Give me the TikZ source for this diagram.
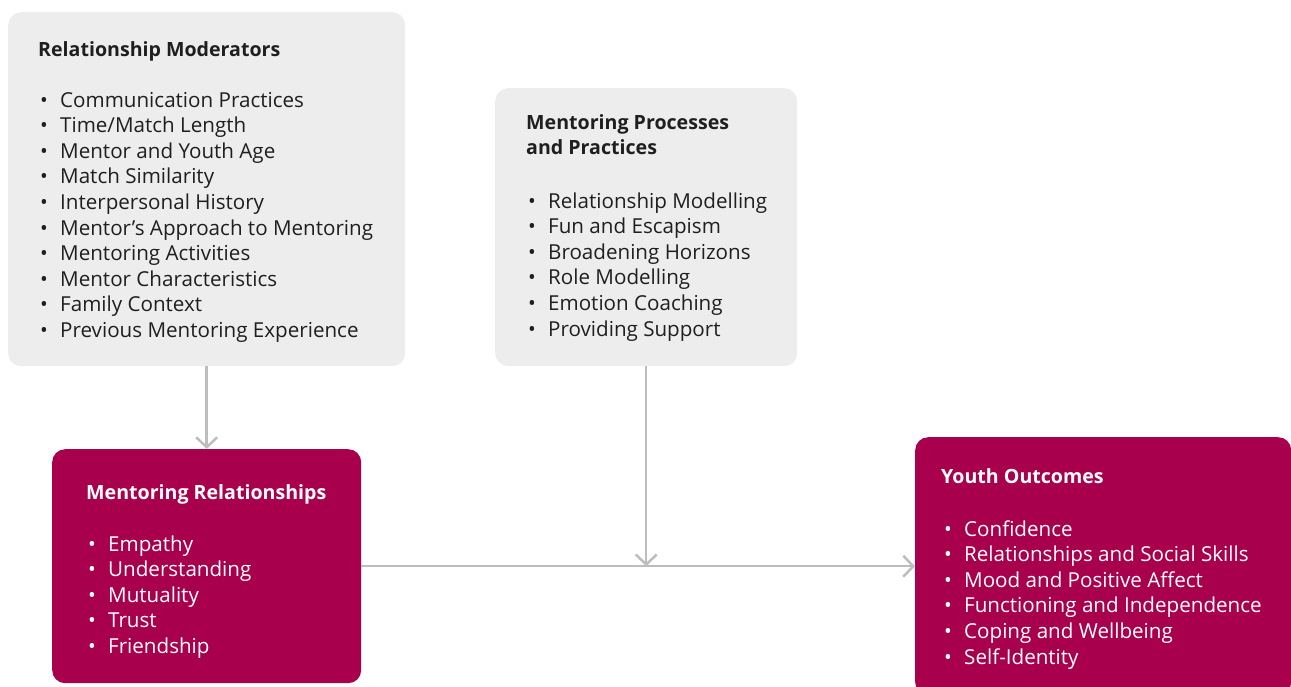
\documentclass[tikz,border=0pt]{standalone}
\usepackage{fontspec}
\setmainfont{Open Sans}
\usetikzlibrary{arrows.meta}

\definecolor{grisCaja}{HTML}{EDEDED}
\definecolor{granate}{HTML}{A8004C}
\definecolor{grisFlecha}{HTML}{BDBDBD}
\definecolor{texto}{HTML}{1F1F1F}

\begin{document}
\begin{tikzpicture}[x=1pt, y=-1pt,
    cajagris/.style={fill=grisCaja, rounded corners=13pt, anchor=north west, inner sep=0pt},
    cajaroja/.style={fill=granate, rounded corners=13pt, anchor=north west, inner sep=0pt},
    titulo/.style={anchor=base west, inner sep=0pt, font=\fontsize{19.6}{25}\selectfont\bfseries},
    item/.style={anchor=base west, inner sep=0pt, font=\fontsize{20.6}{25}\selectfont},
    flecha/.style={draw=grisFlecha, line width=2.5pt, -{Straight Barb[length=10pt,width=21pt]}}]

    \useasboundingbox (0,0) rectangle (1291,686);

    % Cajas
    \node[cajagris, minimum width=397pt, minimum height=354pt] (rm) at (8,12) {};
    \node[cajagris, minimum width=302pt, minimum height=278pt] (mp) at (495,88) {};
    \node[cajaroja, minimum width=309pt, minimum height=234pt] (mr) at (52,449) {};
    \node[cajaroja, minimum width=376pt, minimum height=258pt] (yo) at (915,437) {};

    % Relationship Moderators
    \node[titulo, text=texto] (rm-tit) at (38,56) {Relationship Moderators};
    \foreach \t [count=\i from 0] in {Communication Practices, Time/Match Length,
        Mentor and Youth Age, Match Similarity, Interpersonal History,
        Mentor’s Approach to Mentoring, Mentoring Activities,
        Mentor Characteristics, Family Context, Previous Mentoring Experience}
      \node[item, text=texto] (rm-\i) at (40,107+25.6*\i) {\makebox[20pt][l]{•}\t};

    % Mentoring Processes and Practices
    \node[titulo, text=texto] (mp-tit) at (526,129) {Mentoring Processes};
    \node[titulo, text=texto] (mp-tit2) at (526,154) {and Practices};
    \foreach \t [count=\i from 0] in {Relationship Modelling, Fun and Escapism,
        Broadening Horizons, Role Modelling, Emotion Coaching, Providing Support}
      \node[item, text=texto] (mp-\i) at (528,208+25.6*\i) {\makebox[20pt][l]{•}\t};

    % Mentoring Relationships
    \node[titulo, text=white] (mr-tit) at (86,499) {Mentoring Relationships};
    \foreach \t [count=\i from 0] in {Empathy, Understanding, Mutuality, Trust, Friendship}
      \node[item, text=white] (mr-\i) at (88,551+25.5*\i) {\makebox[20pt][l]{•}\t};

    % Youth Outcomes
    \node[titulo, text=white] (yo-tit) at (941,483) {Youth Outcomes};
    \foreach \t [count=\i from 0] in {Confidence, Relationships and Social Skills,
        Mood and Positive Affect, Functioning and Independence,
        Coping and Wellbeing, Self-Identity}
      \node[item, text=white] (yo-\i) at (944,536+25.6*\i) {\makebox[20pt][l]{•}\t};

    % Flechas
    \coordinate (cruce) at (mp.south |- mr.east);
    \draw[flecha] (rm.south) -- (mr.north);
    \draw[flecha] (mp.south) -- (cruce);
    \draw[flecha] (mr.east) -- (yo.west);

\end{tikzpicture}
\end{document}
